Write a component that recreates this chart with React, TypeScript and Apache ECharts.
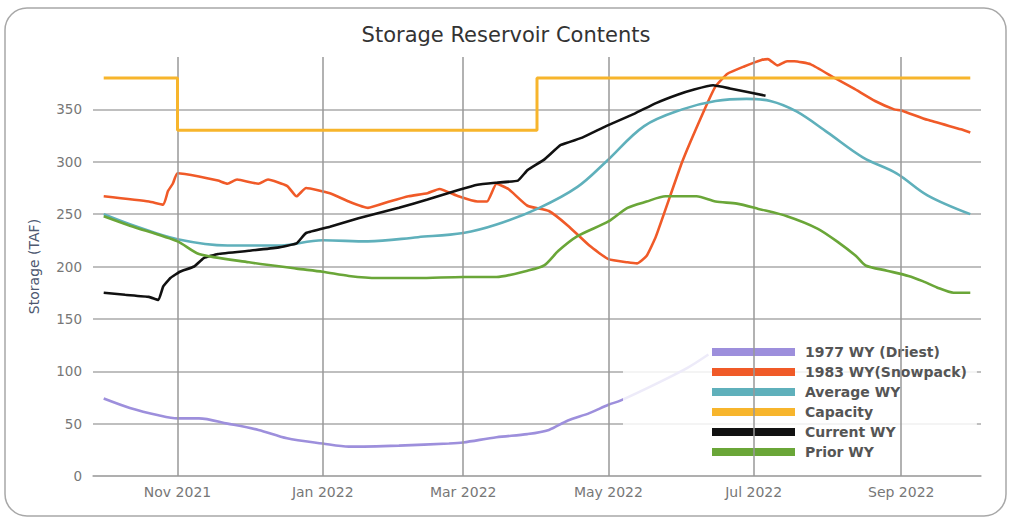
import React, { useEffect, useRef } from "react";
import * as echarts from "echarts";

const TITLE = "Storage Reservoir Contents";
const Y_NAME = "Storage (TAF)";
const MONTHS = ["Jan", "Feb", "Mar", "Apr", "May", "Jun", "Jul", "Aug", "Sep", "Oct", "Nov", "Dec"];
const TICK_DATES = ["2021-11-01", "2022-01-01", "2022-03-01", "2022-05-01", "2022-07-01", "2022-09-01"];

const dry1977: [string, number][] = [
  ["2021-10-01", 74], ["2021-10-12", 65], ["2021-10-24", 58], ["2021-11-01", 55], ["2021-11-10", 55],
  ["2021-11-22", 50], ["2021-12-05", 44], ["2021-12-17", 36], ["2022-01-01", 31], ["2022-01-12", 28],
  ["2022-02-02", 29], ["2022-02-23", 31], ["2022-03-01", 32], ["2022-03-15", 37], ["2022-03-28", 40],
  ["2022-04-06", 44], ["2022-04-14", 53], ["2022-04-23", 60], ["2022-05-01", 68], ["2022-05-06", 72],
  ["2022-05-21", 88], ["2022-06-03", 103], ["2022-06-12", 116],
];

const snow1983: [string, number][] = [
  ["2021-10-01", 267], ["2021-10-20", 262], ["2021-10-26", 259], ["2021-10-28", 272], ["2021-10-30", 279],
  ["2021-11-01", 289], ["2021-11-10", 286], ["2021-11-18", 282], ["2021-11-22", 279], ["2021-11-26", 283],
  ["2021-12-05", 279], ["2021-12-09", 283], ["2021-12-17", 277], ["2021-12-21", 267], ["2021-12-25", 275],
  ["2022-01-04", 270], ["2022-01-12", 262], ["2022-01-20", 256], ["2022-01-29", 262], ["2022-02-06", 267],
  ["2022-02-14", 270], ["2022-02-19", 274], ["2022-02-27", 267], ["2022-03-07", 262], ["2022-03-11", 262],
  ["2022-03-15", 279], ["2022-03-20", 274], ["2022-03-28", 258], ["2022-04-06", 253], ["2022-04-14", 239],
  ["2022-04-23", 220], ["2022-05-01", 207], ["2022-05-09", 204], ["2022-05-13", 203], ["2022-05-17", 210],
  ["2022-05-21", 229], ["2022-06-01", 300], ["2022-06-10", 348], ["2022-06-15", 372], ["2022-06-20", 384],
  ["2022-06-27", 391], ["2022-07-04", 397], ["2022-07-07", 398], ["2022-07-11", 392], ["2022-07-15", 396],
  ["2022-07-18", 396], ["2022-07-25", 393], ["2022-08-04", 380], ["2022-08-12", 370], ["2022-08-21", 358],
  ["2022-08-29", 350], ["2022-09-01", 349], ["2022-09-12", 340], ["2022-09-26", 331], ["2022-09-30", 328],
];

const averageWY: [string, number][] = [
  ["2021-10-01", 250], ["2021-10-15", 238], ["2021-11-01", 226], ["2021-11-22", 220], ["2021-12-13", 220],
  ["2022-01-01", 225], ["2022-01-20", 224], ["2022-02-10", 228], ["2022-03-01", 232], ["2022-03-15", 240],
  ["2022-04-02", 256], ["2022-04-18", 276], ["2022-04-30", 300], ["2022-05-16", 334], ["2022-06-01", 350],
  ["2022-06-15", 358], ["2022-06-28", 360], ["2022-07-08", 358], ["2022-07-19", 348], ["2022-08-01", 328],
  ["2022-08-16", 304], ["2022-08-30", 289], ["2022-09-12", 268], ["2022-09-30", 250],
];

const capacity: [string, number][] = [
  ["2021-10-01", 380], ["2021-11-01", 380], ["2021-11-01", 330], ["2022-04-01", 330],
  ["2022-04-01", 380], ["2022-09-30", 380],
];

const currentWY: [string, number][] = [
  ["2021-10-01", 175], ["2021-10-10", 173], ["2021-10-20", 171], ["2021-10-24", 168], ["2021-10-26", 181],
  ["2021-10-29", 189], ["2021-11-02", 195], ["2021-11-08", 200], ["2021-11-12", 208], ["2021-11-18", 212],
  ["2021-12-01", 215], ["2021-12-13", 218], ["2021-12-21", 222], ["2021-12-25", 232], ["2022-01-04", 238],
  ["2022-01-16", 246], ["2022-02-02", 256], ["2022-02-14", 264], ["2022-02-27", 273], ["2022-03-07", 278],
  ["2022-03-15", 280], ["2022-03-24", 282], ["2022-03-28", 292], ["2022-04-04", 302], ["2022-04-11", 316],
  ["2022-04-20", 323], ["2022-04-30", 334], ["2022-05-12", 346], ["2022-05-21", 356], ["2022-05-30", 364],
  ["2022-06-06", 369], ["2022-06-14", 373], ["2022-06-21", 370], ["2022-07-06", 363],
];

const priorWY: [string, number][] = [
  ["2021-10-01", 248], ["2021-10-12", 239], ["2021-11-01", 224], ["2021-11-10", 212], ["2021-12-01", 204],
  ["2021-12-21", 198], ["2022-01-01", 195], ["2022-01-12", 191], ["2022-01-24", 189], ["2022-02-10", 189],
  ["2022-03-01", 190], ["2022-03-15", 190], ["2022-03-28", 196], ["2022-04-04", 201], ["2022-04-10", 215],
  ["2022-04-18", 229], ["2022-05-01", 243], ["2022-05-09", 256], ["2022-05-17", 262], ["2022-05-25", 267],
  ["2022-06-07", 267], ["2022-06-15", 262], ["2022-06-24", 260], ["2022-07-03", 255], ["2022-07-15", 248],
  ["2022-07-28", 236], ["2022-08-05", 224], ["2022-08-13", 210], ["2022-08-17", 201], ["2022-08-26", 196],
  ["2022-09-04", 191], ["2022-09-10", 186], ["2022-09-16", 180], ["2022-09-23", 175], ["2022-09-30", 175],
];

const SERIES = [
  { name: "1977 WY (Driest)", data: dry1977, color: "#9d8fdc", smooth: 0.3 },
  { name: "1983 WY(Snowpack)", data: snow1983, color: "#f05a28", smooth: 0.15 },
  { name: "Average WY", data: averageWY, color: "#5fb0bb", smooth: 0.35 },
  { name: "Capacity", data: capacity, color: "#f7b52c", smooth: false },
  { name: "Current WY", data: currentWY, color: "#111111", smooth: 0.1 },
  { name: "Prior WY", data: priorWY, color: "#6aa638", smooth: 0.25 },
];

function ts(s: string, h = 0): number {
  const [y, m, d] = s.split("-").map(Number);
  return new Date(y, m - 1, d, h).getTime();
}

export default function App() {
  const ref = useRef<HTMLDivElement>(null);
  useEffect(() => {
    if (!ref.current) return;
    const chart = echarts.init(ref.current, undefined, { renderer: "svg" });
    const tickTs = TICK_DATES.map((d) => ts(d));
    const font = "'DejaVu Sans', Verdana, sans-serif";
    chart.setOption({
      animation: false,
      backgroundColor: "#fff",
      title: {
        text: TITLE,
        left: "center",
        top: 19,
        textStyle: { fontFamily: font, fontSize: 21, fontWeight: "normal", color: "#333" },
      },
      grid: { left: 93, right: 31, top: 57, bottom: 43 },
      legend: {
        data: SERIES.map((s) => s.name),
        orient: "vertical",
        left: 623,
        top: 337,
        padding: [8, 10, 8, 89],
        backgroundColor: "rgba(255,255,255,0.82)",
        icon: "rect",
        itemWidth: 83,
        itemHeight: 8,
        itemGap: 6,
        textStyle: { fontFamily: font, fontSize: 14, fontWeight: "bold", color: "#555", padding: [0, 0, 0, 5] },
      },
      xAxis: {
        type: "value",
        min: ts("2021-09-26", 12),
        max: ts("2022-10-04", 12),
        axisLine: { show: true, onZero: false, lineStyle: { color: "#aaa", width: 1.5 } },
        axisTick: { show: false },
        splitLine: { show: false },
        axisLabel: {
          customValues: tickTs,
          margin: 9,
          fontFamily: font,
          fontSize: 14,
          color: "#777",
          formatter: (v: number) => {
            const d = new Date(v);
            return MONTHS[d.getMonth()] + " " + d.getFullYear();
          },
        },
      },
      yAxis: {
        type: "value",
        min: 0,
        max: 400,
        interval: 50,
        name: Y_NAME,
        nameLocation: "middle",
        nameGap: 52,
        nameTextStyle: { fontFamily: font, fontSize: 14, color: "#4d5870" },
        axisLine: { show: false },
        axisTick: { show: false },
        axisLabel: { showMaxLabel: false, margin: 11, fontFamily: font, fontSize: 13.5, color: "#777" },
        splitLine: { show: true, showMaxLine: false, lineStyle: { color: "#aaa", width: 1.5 } },
      },
      series: [
        {
          name: "_vgrid",
          type: "line",
          data: [],
          silent: true,
          z: 1,
          markLine: {
            silent: true,
            symbol: ["none", "none"],
            label: { show: false },
            lineStyle: { color: "#999", width: 1.5, type: "solid" },
            data: tickTs.map((t) => ({ xAxis: t })),
          },
        },
        ...SERIES.map((s, i) => ({
          name: s.name,
          type: "line",
          data: s.data.map(([d, v]) => [ts(d), v]),
          showSymbol: false,
          symbol: "none",
          smooth: s.smooth,
          color: s.color,
          z: 2 + i,
          lineStyle: { color: s.color, width: s.name === "Capacity" ? 3 : 2.6 },
        })),
      ],
      graphic: [
        {
          type: "rect",
          shape: { x: 5, y: 8, width: 1001, height: 508, r: 22 },
          style: { fill: "none", stroke: "#a8a8a8", lineWidth: 1.5 },
          silent: true,
        },
      ],
    });
    return () => chart.dispose();
  }, []);
  return <div ref={ref} style={{ position: "fixed", left: 0, top: 0, width: 1012, height: 519 }} />;
}
